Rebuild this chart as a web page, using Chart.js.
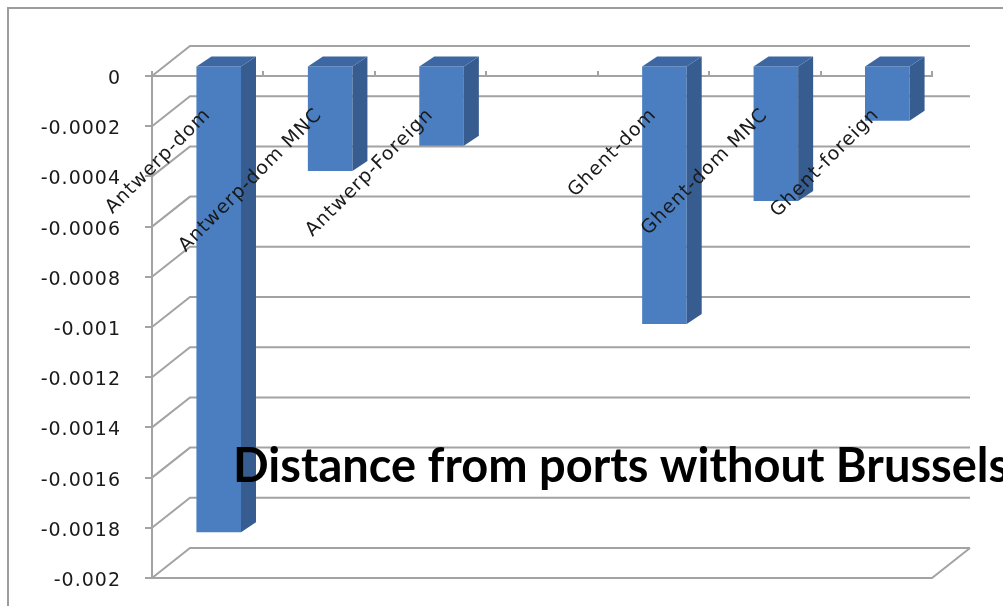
<!DOCTYPE html>
<html>
<head>
<meta charset="utf-8">
<title>Distance from ports without Brussels</title>
<script src="https://cdn.jsdelivr.net/npm/chart.js@4.4.1/dist/chart.umd.min.js"></script>
<style>
  html, body { margin: 0; padding: 0; background: #fff; }
  canvas { display: block; }
</style>
</head>
<body>
<canvas id="portsChart" width="1003" height="606"></canvas>
<script>
// port / firm type, the blank slot separates the two ports
const categories = ['Antwerp-dom', 'Antwerp-dom MNC', 'Antwerp-Foreign', '', 'Ghent-dom', 'Ghent-dom MNC', 'Ghent-foreign'];
const distanceCoef = [-0.00186, -0.00042, -0.00032, null, -0.00103, -0.00054, -0.00022];
const yMin = -0.002;
const yMax = 0;
const yStep = 0.0002;
const chartTitle = 'Distance from ports without Brussels';

const gridColor = '#a3a3a3';
const frontColor = '#4a7ec1';
const sideColor = '#375c90';
const topColor = '#3d67a3';
const labelFont = { family: 'DejaVu Sans', size: 19 };

// box depth for the walls, bar offset inside the box, bar depth
const wall = { dx: 38, dy: -30 };
const barShift = { dx: 11, dy: -10.5 };
const barDepth = { dx: 15, dy: -10 };

const box3d = {
  id: 'box3d',
  beforeDraw(chart) {
    const { ctx } = chart;
    ctx.save();
    ctx.strokeStyle = '#9c9c9c';
    ctx.lineWidth = 2;
    ctx.beginPath();
    ctx.moveTo(8, chart.height);
    ctx.lineTo(8, 8);
    ctx.lineTo(chart.width, 8);
    ctx.stroke();
    ctx.restore();
    ctx.letterSpacing = '1px';
  },
  beforeDatasetsDraw(chart) {
    const { ctx, chartArea: a, scales: { y } } = chart;
    ctx.save();
    ctx.strokeStyle = gridColor;
    ctx.lineWidth = 2;
    ctx.beginPath();
    // back wall lines plus the side wall diagonals
    y.ticks.forEach(t => {
      const py = y.getPixelForValue(t.value);
      ctx.moveTo(a.left, py);
      ctx.lineTo(a.left + wall.dx, py + wall.dy);
      ctx.lineTo(a.right + wall.dx, py + wall.dy);
    });
    // floor
    ctx.moveTo(a.left, a.bottom);
    ctx.lineTo(a.right, a.bottom);
    ctx.lineTo(a.right + wall.dx, a.bottom + wall.dy);
    ctx.stroke();
    ctx.restore();
  },
  beforeDatasetDraw(chart) {
    chart.ctx.save();
    chart.ctx.translate(barShift.dx, barShift.dy);
  },
  afterDatasetDraw(chart, args) {
    const { ctx } = chart;
    const values = chart.data.datasets[args.index].data;
    args.meta.data.forEach((bar, i) => {
      if (values[i] == null) return;
      const { x, y, base, width } = bar.getProps(['x', 'y', 'base', 'width'], true);
      const l = x - width / 2;
      const r = x + width / 2;
      const top = Math.min(y, base);
      const bottom = Math.max(y, base);

      ctx.fillStyle = sideColor;
      ctx.beginPath();
      ctx.moveTo(r, top);
      ctx.lineTo(r + barDepth.dx, top + barDepth.dy);
      ctx.lineTo(r + barDepth.dx, bottom + barDepth.dy);
      ctx.lineTo(r, bottom);
      ctx.closePath();
      ctx.fill();

      ctx.fillStyle = topColor;
      ctx.beginPath();
      ctx.moveTo(l, top);
      ctx.lineTo(l + barDepth.dx, top + barDepth.dy);
      ctx.lineTo(r + barDepth.dx, top + barDepth.dy);
      ctx.lineTo(r, top);
      ctx.closePath();
      ctx.fill();
    });
    ctx.restore();
  },
  afterDraw(chart) {
    const { ctx } = chart;
    ctx.save();
    ctx.letterSpacing = '0px';
    ctx.font = 'bold 47px Lato';
    ctx.fillStyle = '#000';
    ctx.textAlign = 'left';
    ctx.textBaseline = 'alphabetic';
    ctx.fillText(chartTitle, 233, 482);
    ctx.restore();
  },
};

new Chart(document.getElementById('portsChart'), {
  type: 'bar',
  data: {
    labels: categories,
    datasets: [{
      data: distanceCoef,
      backgroundColor: frontColor,
      borderWidth: 0,
      barPercentage: 0.4,
      categoryPercentage: 1,
      clip: false,
    }],
  },
  options: {
    responsive: false,
    animation: false,
    devicePixelRatio: 1,
    layout: {
      padding: { left: 0, top: 76, right: 71, bottom: 28 },
    },
    plugins: {
      legend: { display: false },
      tooltip: { enabled: false },
    },
    scales: {
      x: {
        position: { y: 0 },
        offset: true,
        grid: {
          offset: true,
          drawOnChartArea: false,
          drawTicks: true,
          tickLength: -6,
          color: gridColor,
          lineWidth: 2,
        },
        border: { color: gridColor, width: 2 },
        ticks: {
          autoSkip: false,
          minRotation: 45,
          maxRotation: 45,
          padding: 34,
          z: 1,
          color: '#1a1a1a',
          font: labelFont,
        },
        afterFit: scale => { scale.height = 0; },
      },
      y: {
        min: yMin,
        max: yMax,
        ticks: {
          stepSize: yStep,
          padding: 24,
          labelOffset: 3,
          color: '#1a1a1a',
          font: labelFont,
          callback: v => String(+v.toFixed(4)),
        },
        grid: {
          drawOnChartArea: false,
          drawTicks: true,
          tickLength: 7,
          color: gridColor,
          lineWidth: 2,
        },
        border: { color: gridColor, width: 2 },
        afterFit: scale => {
          // fixed axis width; the label padding should not push the plot area in
          scale.width = 152;
          scale.paddingTop = 0;
          scale.paddingBottom = 0;
        },
      },
    },
  },
  plugins: [box3d],
});
</script>
</body>
</html>
